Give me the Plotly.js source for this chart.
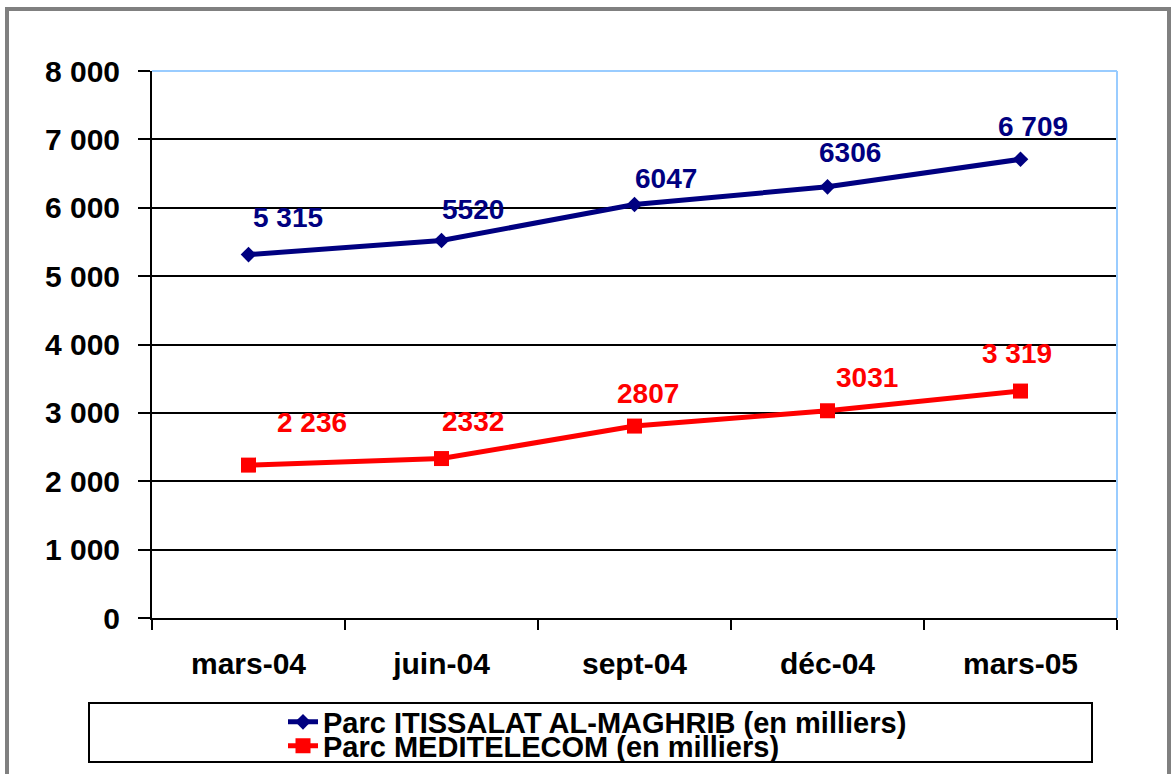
<!DOCTYPE html>
<html>
<head>
<meta charset="utf-8">
<script src="https://cdn.plot.ly/plotly-3.0.1.min.js"></script>
<style>html,body{margin:0;padding:0;background:#fff;}#chart{width:1171px;height:774px;}</style>
</head>
<body>
<div id="chart"></div>
<script>
const categories = ['mars-04', 'juin-04', 'sept-04', 'déc-04', 'mars-05'];
const itissalat = [5315, 5520, 6047, 6306, 6709];
const meditelecom = [2236, 2332, 2807, 3031, 3319];
const itissalatLabels = ['5 315', '5520', '6047', '6306', '6 709'];
const meditelecomLabels = ['2 236', '2332', '2807', '3031', '3 319'];
const yTickVals = [0, 1000, 2000, 3000, 4000, 5000, 6000, 7000, 8000];
const yTickText = ['0', '1 000', '2 000', '3 000', '4 000', '5 000', '6 000', '7 000', '8 000'];
const seriesNames = ['Parc ITISSALAT AL-MAGHRIB (en milliers)', 'Parc MEDITELECOM (en milliers)'];

// label placement offsets (px), styling only
const blueShiftX = [39, 31, 31, 22, 12];
const blueShiftY = [37, 31, 26, 34, 33];
const redShiftX = [63, 31, 13, 39, -4];
const redShiftY = [43, 37, 33, 33, 38];

const FONT = 'Liberation Sans, Arial, Helvetica, sans-serif';
const NAVY = '#000080';
const RED = '#FF0000';

const traces = [
  {
    x: categories, y: itissalat, name: seriesNames[0], type: 'scatter', mode: 'lines+markers',
    line: {color: NAVY, width: 5}, marker: {symbol: 'diamond', size: 12, color: NAVY},
    legend: 'legend', cliponaxis: false
  },
  {
    x: categories, y: meditelecom, name: seriesNames[1], type: 'scatter', mode: 'lines+markers',
    line: {color: RED, width: 5}, marker: {symbol: 'square', size: 15, color: RED},
    legend: 'legend2', cliponaxis: false
  }
];

const annotations = [];
categories.forEach((c, i) => {
  annotations.push({x: c, y: itissalat[i], text: itissalatLabels[i], showarrow: false,
    xanchor: 'center', yanchor: 'middle', xshift: blueShiftX[i], yshift: blueShiftY[i],
    font: {family: FONT, size: 28, color: NAVY, weight: 'bold'}});
  annotations.push({x: c, y: meditelecom[i], text: meditelecomLabels[i], showarrow: false,
    xanchor: 'center', yanchor: 'middle', xshift: redShiftX[i], yshift: redShiftY[i],
    font: {family: FONT, size: 28, color: RED, weight: 'bold'}});
});

const L = 152, R = 54, T = 71, B = 156, W = 1171, H = 774;
const pw = W - L - R, ph = H - T - B;
const px = v => (v - L) / pw;
const py = v => (H - B - v) / ph;

const legendFont = {family: FONT, size: 29, color: '#000', weight: 'bold'};

const layout = {
  width: W, height: H,
  margin: {l: L, r: R, t: T, b: B, autoexpand: false},
  paper_bgcolor: '#fff', plot_bgcolor: '#fff',
  font: {family: FONT, color: '#000'},
  showlegend: true,
  xaxis: {
    type: 'category', range: [-0.5, 4.5], tickson: 'boundaries', ticks: 'outside', ticklen: 10, tickwidth: 2, tickcolor: '#000',
    showline: true, linecolor: '#000', linewidth: 2, showgrid: false,
    tickfont: {family: FONT, size: 30, color: '#000', weight: 'bold'},
    ticklabelstandoff: 18, fixedrange: true, automargin: false
  },
  yaxis: {
    range: [0, 8000], tickvals: yTickVals, ticktext: yTickText,
    ticks: 'outside', ticklen: 12, tickwidth: 2, tickcolor: '#000',
    showline: true, linecolor: '#000', linewidth: 2,
    showgrid: true, gridcolor: '#000', gridwidth: 2, zeroline: false,
    tickfont: {family: FONT, size: 30, color: '#000', weight: 'bold'},
    ticklabelstandoff: 12, fixedrange: true, automargin: false
  },
  legend: {
    xref: 'container', yref: 'container',
    x: 283 / W, xanchor: 'left', y: 1 - 722 / H, yanchor: 'middle',
    bgcolor: 'rgba(0,0,0,0)', borderwidth: 0, font: legendFont
  },
  legend2: {
    xref: 'container', yref: 'container',
    x: 283 / W, xanchor: 'left', y: 1 - 746 / H, yanchor: 'middle',
    bgcolor: 'rgba(0,0,0,0)', borderwidth: 0, font: legendFont
  },
  annotations: annotations,
  shapes: [
    // light blue top/right plot border
    {type: 'line', xref: 'paper', yref: 'paper', x0: 0, x1: 1, y0: 1, y1: 1, line: {color: '#99CCFF', width: 2}, layer: 'above'},
    {type: 'line', xref: 'paper', yref: 'paper', x0: 1, x1: 1, y0: 0, y1: 1, line: {color: '#99CCFF', width: 2}, layer: 'above'},
    // legend box
    {type: 'rect', xref: 'paper', yref: 'paper', x0: px(89), x1: px(1092), y0: py(703), y1: py(762), line: {color: '#000', width: 2}, layer: 'below'},
    // outer grey frame
    {type: 'rect', xref: 'paper', yref: 'paper', x0: px(7), x1: px(1169), y0: py(9), y1: py(800), line: {color: '#808080', width: 4}, layer: 'above'}
  ]
};

Plotly.newPlot('chart', traces, layout, {staticPlot: true, displayModeBar: false});
</script>
</body>
</html>
